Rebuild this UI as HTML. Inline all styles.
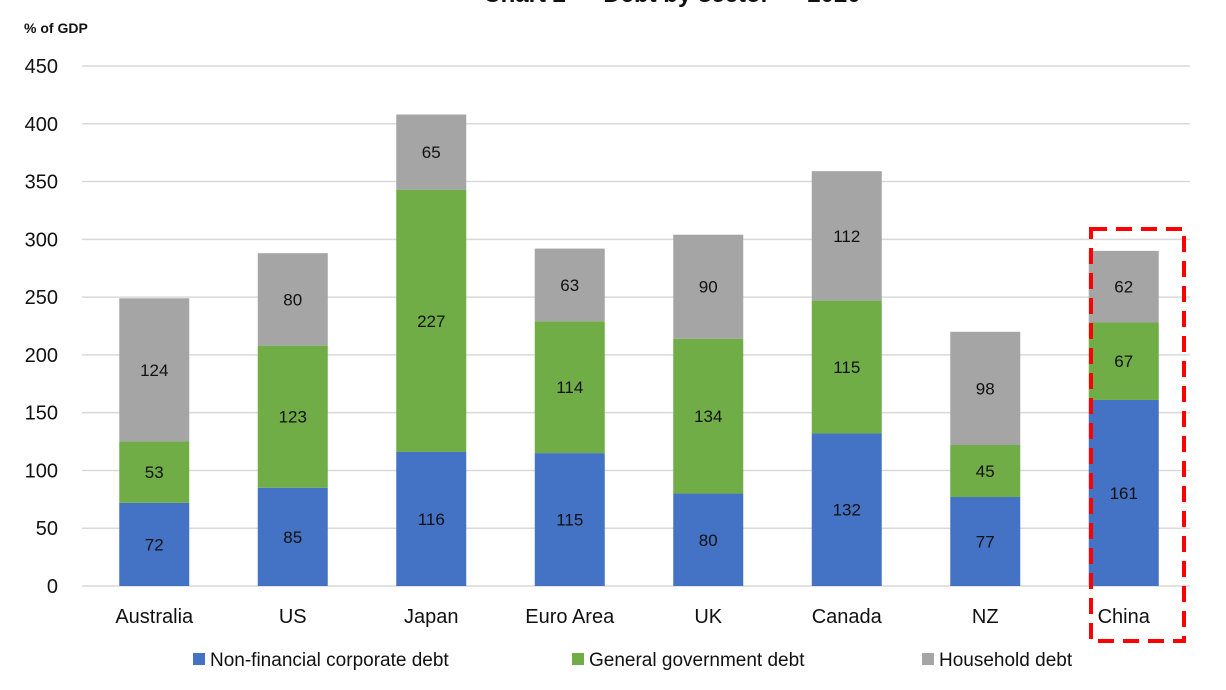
<!DOCTYPE html>
<html><head><meta charset="utf-8"><style>
body{margin:0;background:#fff}
svg{display:block;font-family:"Liberation Sans",sans-serif}
</style></head><body>
<svg id="chart" width="1226" height="690" viewBox="0 0 1226 690">
<text x="672" y="2" text-anchor="middle" font-size="24" font-weight="bold" fill="#111">Chart 2 — Debt by sector — 2020</text>
<text x="24" y="33" font-size="14" font-weight="bold" fill="#111">% of GDP</text>
<g id="grid"></g><g id="bars"></g><g id="xlabels"></g>
<rect x="1091" y="229" width="93" height="412" fill="none" stroke="#ff0000" stroke-width="4" stroke-dasharray="16,9"/>
<g>
<g><rect x="193" y="653" width="12" height="12" fill="#4472c4"/><text x="210" y="666" font-size="19" fill="#111">Non-financial corporate debt</text></g>
<g><rect x="572" y="653" width="12" height="12" fill="#70ad47"/><text x="589" y="666" font-size="19" fill="#111">General government debt</text></g>
<g><rect x="922" y="653" width="12" height="12" fill="#a5a5a5"/><text x="939" y="666" font-size="19" fill="#111">Household debt</text></g>
</g>
</svg>
<script>
const categories=["Australia","US","Japan","Euro Area","UK","Canada","NZ","China"];
const corporate=[72,85,116,115,80,132,77,161];
const government=[53,123,227,114,134,115,45,67];
const household=[124,80,65,63,90,112,98,62];
const yTicks=[0,50,100,150,200,250,300,350,400,450];
const NS="http://www.w3.org/2000/svg";
const y0=586,yTop=66,yMax=450,x0=82,x1=1190;
const y=v=>y0-(v/yMax)*(y0-yTop);
const band=(x1-x0)/categories.length;
const xc=i=>x0+band*(i+0.5)+3;
const bw=70;
function mk(t,a,p){const e=document.createElementNS(NS,t);for(const k in a)e.setAttribute(k,a[k]);p.appendChild(e);return e;}
const grid=document.getElementById('grid'),bars=document.getElementById('bars'),xl=document.getElementById('xlabels');
yTicks.forEach(v=>{
 const l=mk('line',{x1:x0,x2:x1,y1:y(v),y2:y(v),stroke:'#d9d9d9','stroke-width':1.5},grid);
 
 
 const t=mk('text',{x:58,y:y(v)+7,'text-anchor':'end','font-size':20,fill:'#111'},grid);
 t.textContent=v;
 
 
});
const series=[[corporate,'#4472c4','corporate'],[government,'#70ad47','government'],[household,'#a5a5a5','household']];
categories.forEach((c,i)=>{
 let base=0;
 series.forEach(([arr,col,nm])=>{
  const v=arr[i];
  const r=mk('rect',{x:xc(i)-bw/2,y:y(base+v),width:bw,height:y(base)-y(base+v),fill:col},bars);
  
  
  const t=mk('text',{x:xc(i),y:(y(base)+y(base+v))/2+6,'text-anchor':'middle','font-size':17,fill:'#111'},bars);
  t.textContent=v;
  
  
  base+=v;
 });
 const t=mk('text',{x:xc(i),y:623,'text-anchor':'middle','font-size':20,fill:'#111'},xl);
 t.textContent=c;
 
 
});
</script>
</body></html>
